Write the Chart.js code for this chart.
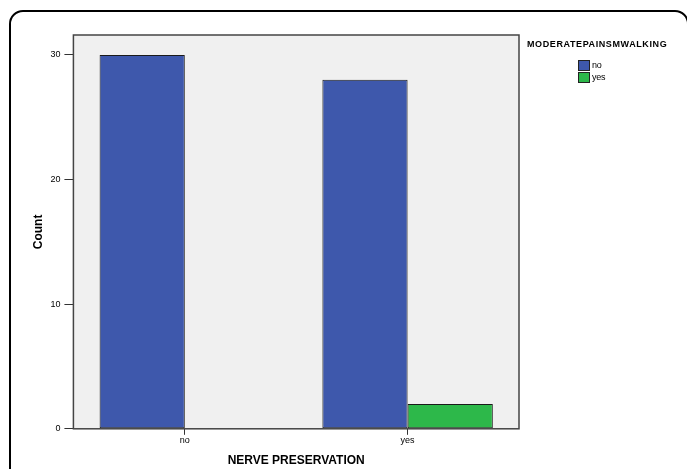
<!DOCTYPE html>
<html>
<head>
<meta charset="utf-8">
<script src="https://cdn.jsdelivr.net/npm/chart.js@4/dist/chart.umd.min.js"></script>
<style>
  html, body { margin: 0; padding: 0; background: #fff; }
  #wrap { position: relative; width: 687px; height: 469px; overflow: hidden; }
  #frame { position: absolute; left: 9px; top: 10px; width: 680px; height: 480px; border: 2px solid #000; border-radius: 14px; box-sizing: border-box; pointer-events: none; }
  canvas { position: absolute; left: 0; top: 0; }
  #legend { position: absolute; left: 527px; top: 39px; font-family: "Liberation Sans", Arial, sans-serif; font-size: 9px; color: #000; }
  #legend .title { font-weight: bold; letter-spacing: 0.6px; white-space: nowrap; }
  #legend .item { display: flex; align-items: center; margin-left: 51px; height: 12px; letter-spacing: -0.3px; }
  #legend .sw { width: 10px; height: 9px; border: 1px solid #222; margin-right: 2px; }
</style>
</head>
<body>
<div id="wrap">
  <canvas id="c" width="687" height="469"></canvas>
  <div id="frame"></div>
  <div id="legend"></div>
</div>
<script>
const categories = ["no", "yes"];
const seriesNames = ["no", "yes"];
const countNo = [30, 28];
const countYes = [0, 2];
const yTicks = [0, 10, 20, 30];
const legendTitle = "MODERATEPAINSMWALKING";
const xTitle = "NERVE PRESERVATION";
const yTitle = "Count";
const colors = ["#3e58ac", "#2db84a"];

const legendEl = document.getElementById('legend');
legendEl.innerHTML = '<div class="title">' + legendTitle + '</div>' +
  seriesNames.map((n, i) => '<div class="item"><span class="sw" style="background:' + colors[i] + '"></span>' + n + '</div>').join('');
legendEl.querySelector('.item').style.marginTop = '10px';

const bgPlugin = {
  id: 'plotBg',
  beforeDraw(chart) {
    const { ctx, chartArea: a } = chart;
    ctx.save();
    ctx.fillStyle = '#f0f0f0';
    ctx.fillRect(a.left, a.top, a.right - a.left, a.bottom - a.top);
    ctx.restore();
  },
  afterDatasetsDraw(chart) {
    const { ctx, chartArea: a } = chart;
    ctx.save();
    ctx.strokeStyle = '#444';
    ctx.lineWidth = 1.5;
    ctx.strokeRect(a.left, a.top, a.right - a.left, a.bottom - a.top);
    ctx.restore();
  }
};

const font = { family: '"Liberation Sans", Arial, sans-serif', size: 9 };

new Chart(document.getElementById('c'), {
  type: 'bar',
  data: {
    labels: categories,
    datasets: [
      { label: seriesNames[0], data: countNo, backgroundColor: colors[0], borderColor: '#1a1a1a', borderWidth: 1, borderSkipped: false },
      { label: seriesNames[1], data: countYes.map(v => v === 0 ? null : v), backgroundColor: colors[1], borderColor: '#1a1a1a', borderWidth: 1, borderSkipped: false }
    ]
  },
  options: {
    responsive: false,
    animation: false,
    devicePixelRatio: 1,
    layout: { padding: { left: 31, top: 35, right: 168, bottom: 1 } },
    plugins: { legend: { display: false }, tooltip: { enabled: false } },
    datasets: { bar: { categoryPercentage: 0.765, barPercentage: 1 } },
    scales: {
      x: {
        grid: { display: true, drawOnChartArea: false, drawTicks: true, tickLength: 6, color: '#333', offset: false },
        border: { display: false },
        ticks: { color: '#000', font: font, padding: 0 },
        title: { display: true, text: xTitle, color: '#000', font: { family: '"Liberation Sans", Arial, sans-serif', size: 12, weight: 'bold' }, padding: { top: 8, bottom: 0 } }
      },
      y: {
        min: 0, max: 31.6,
        afterBuildTicks(scale) { scale.ticks = yTicks.map(v => ({ value: v })); },
        grid: { display: true, drawOnChartArea: false, drawTicks: true, tickLength: 9, color: '#333' },
        border: { display: false },
        ticks: { color: '#000', font: font, padding: 4 },
        title: { display: true, text: yTitle, color: '#000', font: { family: '"Liberation Sans", Arial, sans-serif', size: 12, weight: 'bold' }, padding: { top: 0, bottom: 1 } }
      }
    }
  },
  plugins: [bgPlugin]
});
</script>
</body>
</html>
